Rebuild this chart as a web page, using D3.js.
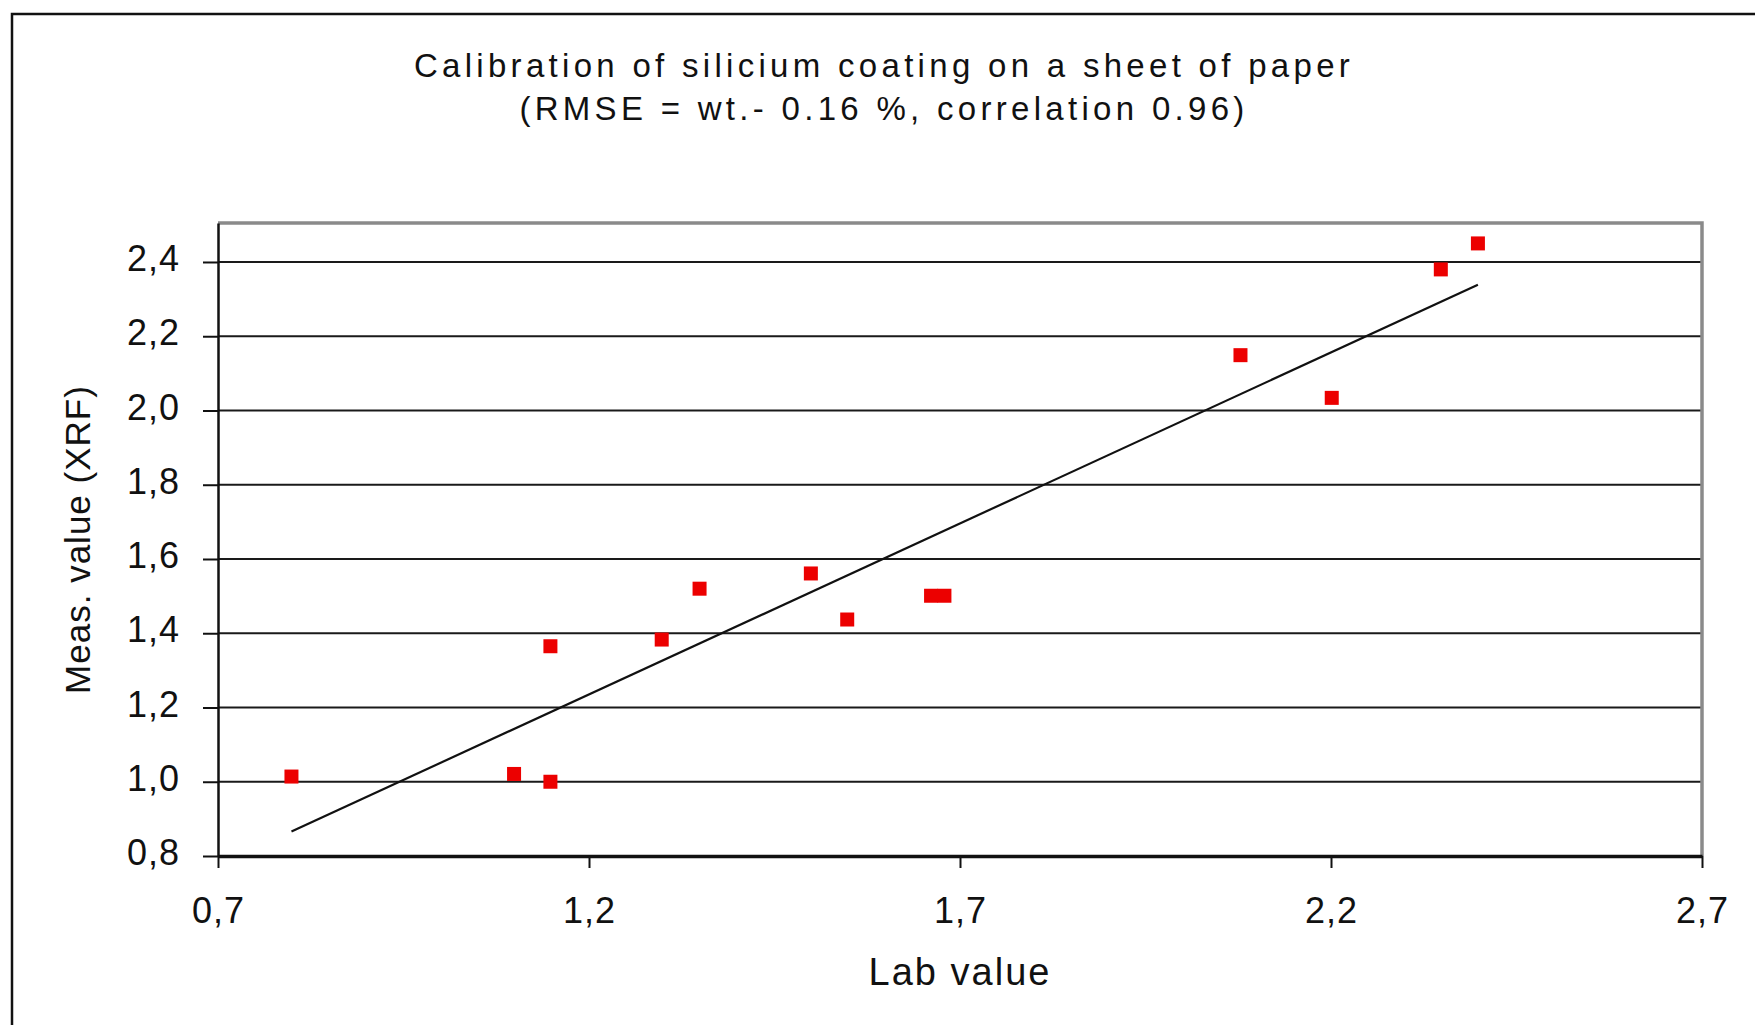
<!DOCTYPE html>
<html>
<head>
<meta charset="utf-8">
<script src="https://cdn.jsdelivr.net/npm/d3@7"></script>
<style>
  body { margin: 0; background: #fff; }
  text { font-family: "Liberation Sans", Arial, sans-serif; fill: #111; }
</style>
</head>
<body>
<div id="chart"></div>
<script>
// values
var labValue  = [0.799, 1.099, 1.148, 1.148, 1.298, 1.349, 1.499, 1.548, 1.661, 1.679, 2.078, 2.201, 2.348, 2.398];
var measValue = [1.014, 1.021, 1.000, 1.365, 1.383, 1.520, 1.561, 1.437, 1.501, 1.501, 2.149, 2.034, 2.380, 2.450];
var xTicks = [0.7, 1.2, 1.7, 2.2, 2.7];
var yTicks = [0.8, 1.0, 1.2, 1.4, 1.6, 1.8, 2.0, 2.2, 2.4];
var titleLines = ["Calibration of silicium coating on a sheet of paper",
                  "(RMSE = wt.- 0.16 %, correlation 0.96)"];

var W = 1755, H = 1025;
var margin = {top: 223, right: 53, bottom: 169, left: 218},
    width = W - margin.left - margin.right,
    height = H - margin.top - margin.bottom;

var comma = d3.formatLocale({decimal: ",", thousands: ".", grouping: [3], currency: ["", ""]}).format(".1f");

var svg = d3.select("#chart").append("svg")
    .attr("width", W)
    .attr("height", H);

// outer frame (runs off the right/bottom edge like the original crop)
svg.append("rect")
    .attr("x", 12).attr("y", 14)
    .attr("width", 1800).attr("height", 1100)
    .attr("fill", "none").attr("stroke", "#111").attr("stroke-width", 2.5);

svg.selectAll(".title").data(titleLines).enter().append("text")
    .attr("class", "title")
    .attr("x", 884)
    .attr("y", (d, i) => 77 + i * 43)
    .attr("text-anchor", "middle")
    .style("font-size", "33px")
    .style("letter-spacing", "4.3px")
    .text(d => d);

var g = svg.append("g").attr("transform", "translate(" + margin.left + "," + margin.top + ")");

var x = d3.scaleLinear().domain([0.7, 2.7]).range([0, width]);
var y = d3.scaleLinear().domain([0.8, 2.505]).range([height, 0]);

// horizontal gridlines
g.selectAll(".grid").data(yTicks.slice(1)).enter().append("line")
    .attr("class", "grid")
    .attr("x1", 0).attr("x2", width)
    .attr("y1", d => y(d)).attr("y2", d => y(d))
    .attr("stroke", "#1a1a1a").attr("stroke-width", 2.2);

// grey top / right border of plot area
g.append("path")
    .attr("d", "M0,0H" + width + "V" + height)
    .attr("fill", "none").attr("stroke", "#8a8a8a").attr("stroke-width", 3.5);

var yAxis = g.append("g")
    .call(d3.axisLeft(y).tickValues(yTicks).tickFormat(comma).tickSize(15).tickSizeOuter(0).tickPadding(23));
var xAxis = g.append("g")
    .attr("transform", "translate(0," + height + ")")
    .call(d3.axisBottom(x).tickValues(xTicks).tickFormat(comma).tickSize(12).tickSizeOuter(0).tickPadding(29));

yAxis.select(".domain").attr("stroke", "#111").attr("stroke-width", 2.5);
xAxis.select(".domain").attr("stroke", "#111").attr("stroke-width", 3.5);
[yAxis, xAxis].forEach(function(a) {
  a.selectAll(".tick line").attr("stroke", "#111").attr("stroke-width", 2);
  a.selectAll(".tick text")
      .style("font-size", "36px")
      .style("letter-spacing", "1px")
      .attr("fill", "#111");
});
yAxis.selectAll(".tick text").attr("dy", "0.24em");

// least squares trend line over the data range
var mx = d3.mean(labValue), my = d3.mean(measValue);
var sxy = d3.sum(labValue, (v, i) => (v - mx) * (measValue[i] - my));
var sxx = d3.sum(labValue, v => (v - mx) * (v - mx));
var slope = sxy / sxx, icpt = my - slope * mx;
var xr = d3.extent(labValue);

g.append("line")
    .attr("x1", x(xr[0])).attr("y1", y(icpt + slope * xr[0]))
    .attr("x2", x(xr[1])).attr("y2", y(icpt + slope * xr[1]))
    .attr("stroke", "#111").attr("stroke-width", 2.2);

var pts = labValue.map((v, i) => ({x: v, y: measValue[i]}));
var s = 14;
g.selectAll(".pt").data(pts).enter().append("rect")
    .attr("class", "pt")
    .attr("x", d => x(d.x) - s / 2)
    .attr("y", d => y(d.y) - s / 2)
    .attr("width", s).attr("height", s)
    .attr("fill", "#ec0000");

// axis titles
g.append("text")
    .attr("x", width / 2)
    .attr("y", height + 129)
    .attr("text-anchor", "middle")
    .style("font-size", "38px")
    .style("letter-spacing", "2px")
    .text("Lab value");

g.append("text")
    .attr("transform", "translate(" + (90 - margin.left) + "," + (height / 2) + ") rotate(-90)")
    .attr("text-anchor", "middle")
    .style("font-size", "35px")
    .style("letter-spacing", "1px")
    .text("Meas. value (XRF)");
</script>
</body>
</html>
